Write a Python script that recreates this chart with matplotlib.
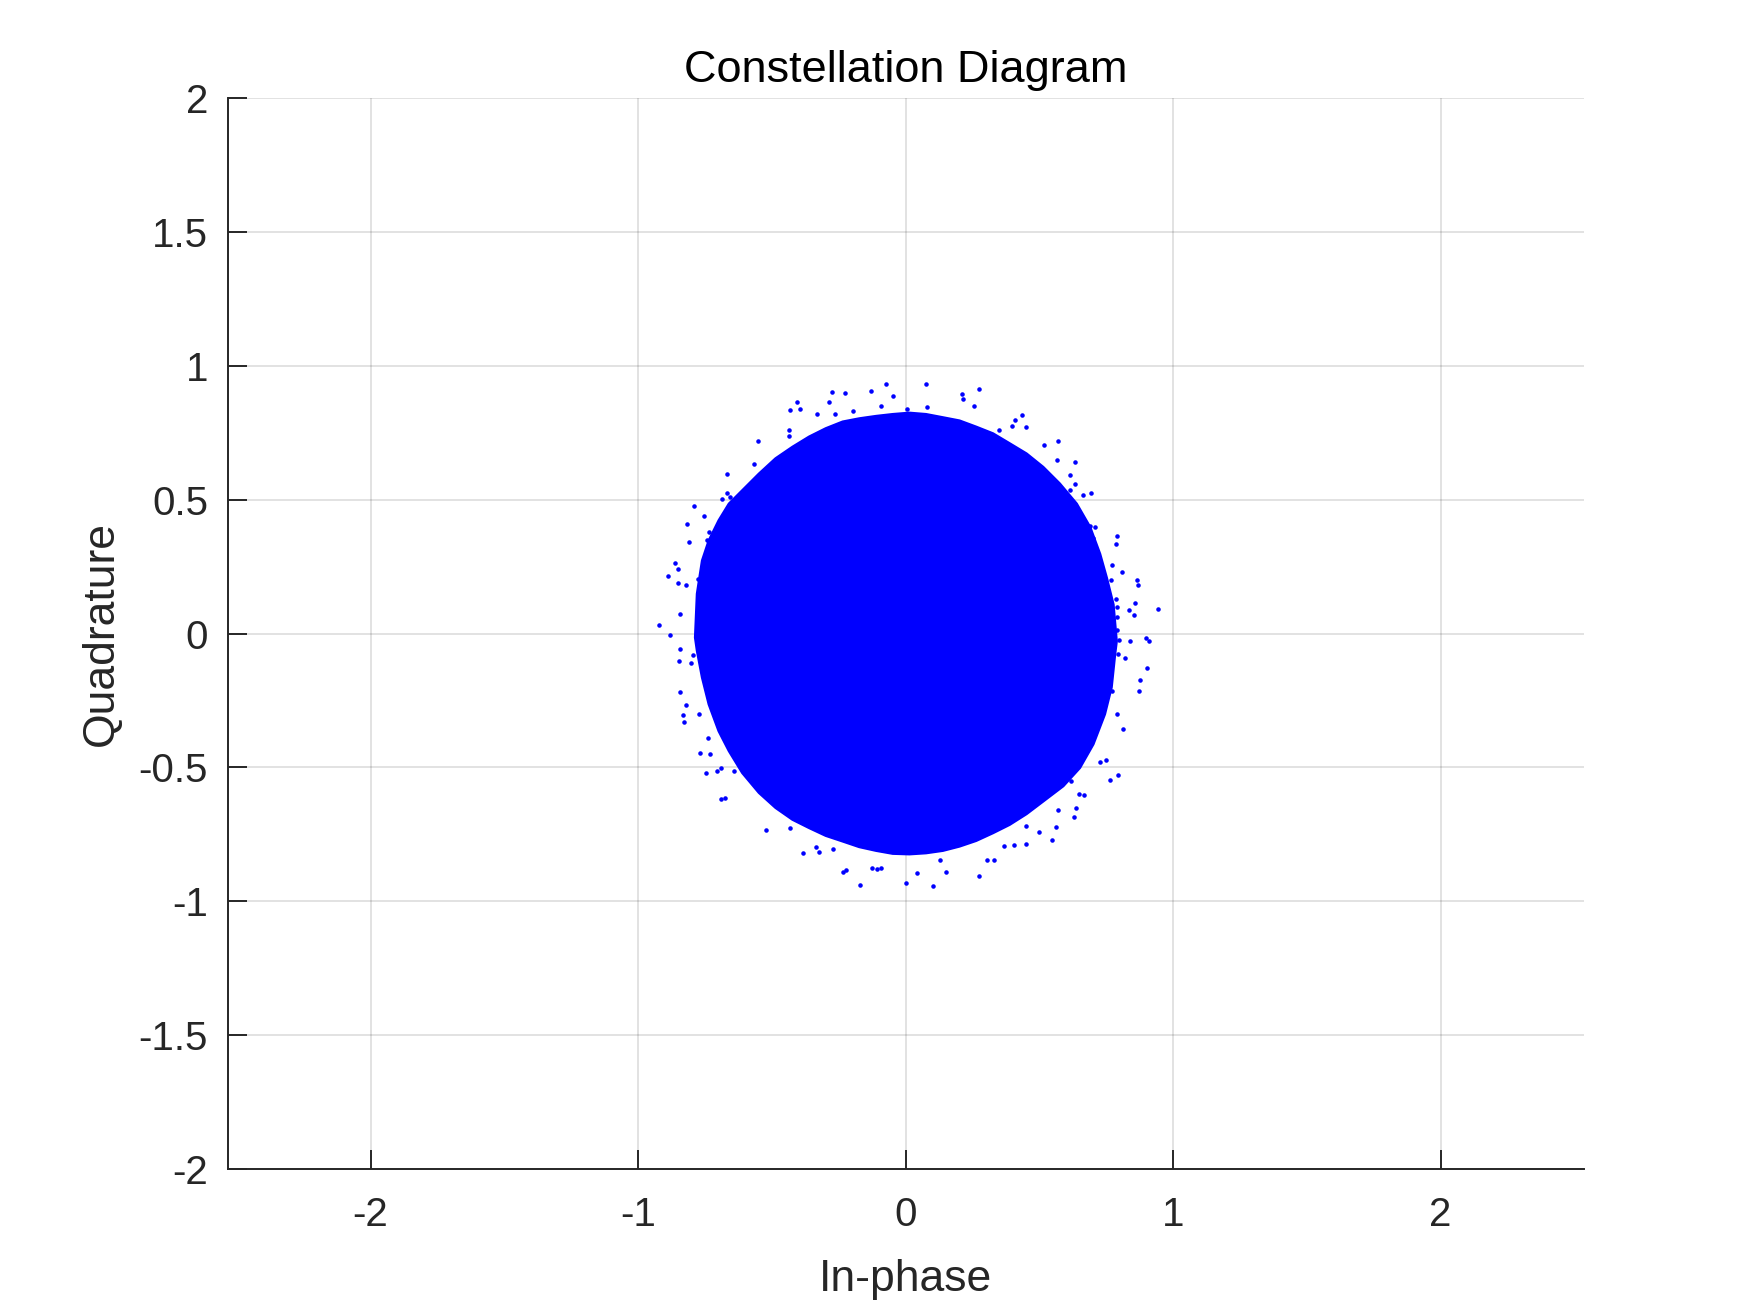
import matplotlib
matplotlib.use("Agg")
import matplotlib.pyplot as plt

plt.rcParams['font.family'] = ['Liberation Sans', 'DejaVu Sans']

# outline of the dense received-symbol cloud (I, Q)
cloud_i = [0.787, 0.775, 0.750, 0.725, 0.688, 0.638, 0.575, 0.513, 0.451, 0.388,
           0.326, 0.263, 0.201, 0.139, 0.076, 0.014, -0.048, -0.110, -0.173, -0.235,
           -0.298, -0.360, -0.422, -0.485, -0.547, -0.609, -0.659, -0.697, -0.734,
           -0.759, -0.778, -0.785, -0.778, -0.759, -0.734, -0.697, -0.659, -0.609,
           -0.547, -0.485, -0.422, -0.360, -0.298, -0.235, -0.173, -0.110, -0.048,
           0.014, 0.076, 0.139, 0.201, 0.263, 0.326, 0.388, 0.451, 0.513, 0.588,
           0.650, 0.700, 0.743, 0.768, 0.781]
cloud_q = [-0.029, 0.108, 0.208, 0.297, 0.397, 0.484, 0.559, 0.621, 0.671, 0.709,
           0.746, 0.771, 0.794, 0.806, 0.818, 0.823, 0.818, 0.811, 0.802, 0.790,
           0.765, 0.734, 0.696, 0.653, 0.596, 0.534, 0.484, 0.422, 0.347,
           0.272, 0.148, -0.015, -0.064, -0.164, -0.264, -0.364, -0.438, -0.520,
           -0.594, -0.650, -0.694, -0.725, -0.754, -0.775, -0.796, -0.810, -0.821,
           -0.823, -0.819, -0.810, -0.794, -0.773, -0.744, -0.713, -0.673, -0.626, -0.569,
           -0.501, -0.413, -0.301, -0.201, -0.077]

# scattered symbols outside the cloud
outlier_i = [
    # top
    -0.073, 0.076, 0.273, 0.211, 0.215, -0.129, -0.047, -0.275, -0.227, -0.406,
    -0.432, -0.395, -0.287, -0.092, 0.080, 0.255, -0.331, -0.264, -0.197, 0.436,
    0.409, 0.397, 0.450, 0.349, -0.436, -0.436, -0.553, 0.518, 0.570, -0.567,
    -0.668, 0.566, 0.634, 0.615, 0.005,
    # right
    0.634, 0.615, 0.664, 0.694, 0.709, 0.690, 0.791, 0.787, 0.701, 0.772,
    0.810, 0.866, 0.869, 0.768, 0.858, 0.836, 0.854, 0.944, 0.787, 0.791,
    0.791, 0.791, 0.798, 0.840, 0.899, 0.911, 0.795, 0.821, 0.903, 0.877,
    0.873, 0.772, 0.791, 0.813, 0.750, 0.727, 0.795, 0.765, 0.649, 0.667, 0.619,
    # left
    -0.668, -0.657, -0.687, -0.792, -0.754, -0.818, -0.736, -0.743, -0.810, -0.863,
    -0.851, -0.889, -0.851, -0.822, -0.777, -0.844, -0.923, -0.881, -0.844, -0.848,
    -0.795, -0.803, -0.844, -0.822, -0.773, -0.833, -0.829, -0.739, -0.769, -0.732,
    -0.691, -0.706, -0.747, -0.642, -0.691, -0.676,
    # bottom
    -0.522, -0.432, -0.384, -0.335, -0.324, -0.272, -0.234, -0.223, -0.171, -0.126,
    -0.107, -0.092, 0.001, 0.043, 0.103, 0.129, 0.151, 0.275, 0.305, 0.331,
    0.368, 0.406, 0.450, 0.450, 0.499, 0.548, 0.563, 0.570, 0.630, 0.637,
]
outlier_q = [
    # top
    0.933, 0.933, 0.915, 0.896, 0.877, 0.907, 0.888, 0.903, 0.900, 0.866,
    0.836, 0.840, 0.866, 0.851, 0.847, 0.851, 0.819, 0.819, 0.832, 0.817,
    0.799, 0.776, 0.773, 0.761, 0.761, 0.739, 0.720, 0.705, 0.720, 0.634,
    0.597, 0.649, 0.642, 0.593, 0.840,
    # right
    0.559, 0.537, 0.518, 0.526, 0.398, 0.402, 0.365, 0.335, 0.357, 0.256,
    0.230, 0.200, 0.181, 0.200, 0.114, 0.088, 0.069, 0.092, 0.129, 0.099,
    0.062, 0.013, -0.024, -0.028, -0.017, -0.028, -0.077, -0.092, -0.129, -0.174,
    -0.215, -0.215, -0.301, -0.357, -0.473, -0.481, -0.529, -0.548, -0.600, -0.604, -0.552,
    # left
    0.526, 0.511, 0.503, 0.477, 0.440, 0.410, 0.380, 0.350, 0.342, 0.264,
    0.241, 0.215, 0.189, 0.181, 0.204, 0.073, 0.032, -0.006, -0.058, -0.103,
    -0.080, -0.110, -0.219, -0.267, -0.301, -0.305, -0.331, -0.391, -0.447, -0.451,
    -0.503, -0.514, -0.522, -0.514, -0.619, -0.615,
    # bottom
    -0.735, -0.728, -0.821, -0.799, -0.817, -0.806, -0.892, -0.885, -0.941, -0.877,
    -0.881, -0.877, -0.933, -0.896, -0.945, -0.847, -0.892, -0.907, -0.847, -0.847,
    -0.795, -0.791, -0.788, -0.720, -0.743, -0.773, -0.724, -0.660, -0.686, -0.653,
]

axis_ticks_x = [-2, -1, 0, 1, 2]
axis_ticks_y = [-2, -1.5, -1, -0.5, 0, 0.5, 1, 1.5, 2]

fig = plt.figure(figsize=(17.5, 13.13), dpi=100)
ax = fig.add_axes([0.13, 0.11, 0.775, 0.815])

ax.fill(cloud_i, cloud_q, facecolor='#0000ff', edgecolor='#0000ff', linewidth=2.5, zorder=3)
ax.plot(outlier_i, outlier_q, '.', color='#0000ff', markersize=4.5, zorder=3)

ax.set_xlim(-2.535, 2.535)
ax.set_ylim(-2, 2)
ax.set_xticks(axis_ticks_x)
ax.set_yticks(axis_ticks_y)
ax.set_xticklabels([f"{t:g}" for t in axis_ticks_x])
ax.set_yticklabels([f"{t:g}" for t in axis_ticks_y])

ax.grid(True, color='#262626', alpha=0.15, linewidth=1.3)
ax.set_axisbelow(True)
for side in ['top', 'right']:
    ax.spines[side].set_visible(False)
for side in ['left', 'bottom']:
    ax.spines[side].set_color('#262626')
    ax.spines[side].set_linewidth(1.4)
ax.tick_params(direction='in', length=14, width=1.4, colors='#262626',
               labelsize=29, pad=14)
ax.tick_params(axis='x', pad=20)

ax.set_title("Constellation Diagram", fontsize=32.5, color='black', pad=12)
ax.set_xlabel("In-phase", fontsize=32, color='#262626', labelpad=18)
ax.set_ylabel("Quadrature", fontsize=32, color='#262626', labelpad=12)

fig.savefig("out.png", dpi=100, facecolor='white')
